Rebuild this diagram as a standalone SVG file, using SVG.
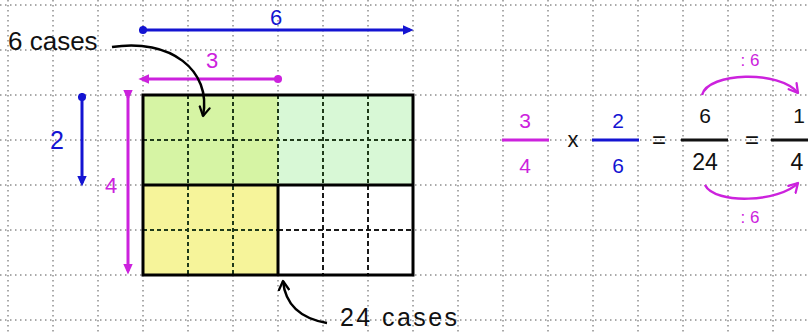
<svg xmlns="http://www.w3.org/2000/svg" width="808" height="332" viewBox="0 0 808 332">
<style>
.grid line{stroke:#555;stroke-width:1;stroke-dasharray:1.5 3.5}
.hand{font-family:"Liberation Sans","DejaVu Sans",sans-serif}
.blk{fill:#111}
.blu{fill:#1414d2}
.mag{fill:#cc22dd}
.dash{stroke:#1a1a1a;stroke-width:2;stroke-dasharray:5 3;fill:none}
.dashg{stroke:#1f3a1a;stroke-width:2;stroke-dasharray:4 3;fill:none}
.solid{stroke:#000;stroke-width:3;fill:none}
</style>
<defs>
<marker id="chevBlk" viewBox="0 0 10 10" refX="8" refY="5" markerWidth="5" markerHeight="5" orient="auto" markerUnits="strokeWidth">
<polyline points="1,1 8,5 1,9" fill="none" stroke="#000" stroke-width="1.8" stroke-linecap="round" stroke-linejoin="round"/>
</marker>
<marker id="chevMag" viewBox="0 0 10 10" refX="8" refY="5" markerWidth="5" markerHeight="5" orient="auto" markerUnits="strokeWidth">
<polyline points="1,1 8,5 1,9" fill="none" stroke="#cc22dd" stroke-width="1.8" stroke-linecap="round" stroke-linejoin="round"/>
</marker>
<marker id="triBlu" viewBox="0 0 10 10" refX="6" refY="5" markerWidth="4" markerHeight="4" orient="auto" markerUnits="strokeWidth">
<path d="M0,1 L9,5 L0,9 Z" fill="#1414d2"/>
</marker>
<marker id="dotBlu" viewBox="0 0 10 10" refX="5" refY="5" markerWidth="3" markerHeight="3" orient="auto" markerUnits="strokeWidth">
<circle cx="5" cy="5" r="4.5" fill="#1414d2"/>
</marker>
<marker id="triMag" viewBox="0 0 10 10" refX="6" refY="5" markerWidth="4" markerHeight="4" orient="auto" markerUnits="strokeWidth">
<path d="M0,1 L9,5 L0,9 Z" fill="#cc22dd"/>
</marker>
<marker id="dotMag" viewBox="0 0 10 10" refX="5" refY="5" markerWidth="3" markerHeight="3" orient="auto" markerUnits="strokeWidth">
<circle cx="5" cy="5" r="4.5" fill="#cc22dd"/>
</marker>
</defs>
<rect width="808" height="332" fill="#fff"/>
<g class="grid">
<line x1="8" y1="0" x2="8" y2="332"/><line x1="53" y1="0" x2="53" y2="332"/><line x1="98" y1="0" x2="98" y2="332"/><line x1="143" y1="0" x2="143" y2="332"/><line x1="188" y1="0" x2="188" y2="332"/><line x1="233" y1="0" x2="233" y2="332"/><line x1="278" y1="0" x2="278" y2="332"/><line x1="323" y1="0" x2="323" y2="332"/><line x1="368" y1="0" x2="368" y2="332"/><line x1="413" y1="0" x2="413" y2="332"/><line x1="458" y1="0" x2="458" y2="332"/><line x1="503" y1="0" x2="503" y2="332"/><line x1="548" y1="0" x2="548" y2="332"/><line x1="593" y1="0" x2="593" y2="332"/><line x1="638" y1="0" x2="638" y2="332"/><line x1="683" y1="0" x2="683" y2="332"/><line x1="728" y1="0" x2="728" y2="332"/><line x1="773" y1="0" x2="773" y2="332"/>
<line x1="0" y1="5" x2="808" y2="5"/><line x1="0" y1="50" x2="808" y2="50"/><line x1="0" y1="95" x2="808" y2="95"/><line x1="0" y1="140" x2="808" y2="140"/><line x1="0" y1="185" x2="808" y2="185"/><line x1="0" y1="230" x2="808" y2="230"/><line x1="0" y1="275" x2="808" y2="275"/><line x1="0" y1="320" x2="808" y2="320"/>
</g>
<g id="rectangle">
<rect x="143" y="95" width="135" height="90" fill="#d6f4a4"/>
<rect x="278" y="95" width="135" height="90" fill="#d8f8d6"/>
<rect x="143" y="185" width="135" height="90" fill="#f6f49a"/>
<rect x="278" y="185" width="135" height="90" fill="#fff"/>
<path class="dashg" d="M188,95 V275 M233,95 V275 M323,95 V185 M368,95 V185 M278,95 V185 M143,140 H413 M143,230 H278"/>
<path class="dash" d="M323,185 V275 M368,185 V275 M278,230 H413"/>
<path class="solid" d="M143,185 H413 M278,185 V275"/>
<rect x="143" y="95" width="270" height="180" class="solid"/>
</g>
<g id="dim-6">
<text class="hand blu" x="276" y="25" font-size="22" text-anchor="middle">6</text>
</g>
<g id="dim-3">
<text class="hand mag" x="212" y="68" font-size="22" text-anchor="middle">3</text>
</g>
<g id="dim-2">
<text class="hand blu" x="57" y="149" font-size="25" text-anchor="middle">2</text>
</g>
<g id="dim-4">
<text class="hand mag" x="111" y="193" font-size="22" text-anchor="middle">4</text>
</g>
<g id="label-6-cases">
<text class="hand blk" x="8" y="50" font-size="26">6 cases</text>
</g>
<g id="label-24-cases">
<text class="hand blk" x="340" y="326" font-size="25" textLength="117">24 cases</text>
</g>
<g id="equation">
<text class="hand mag" x="525" y="128" font-size="21" text-anchor="middle">3</text>
<line x1="502" y1="140" x2="549" y2="140" stroke="#cc22dd" stroke-width="3"/>
<text class="hand mag" x="525" y="173" font-size="21" text-anchor="middle">4</text>
<text class="hand blk" x="573" y="147" font-size="22" text-anchor="middle">x</text>
<text class="hand blk" x="659" y="148" font-size="24" text-anchor="middle">=</text>
<text class="hand blu" x="618" y="128" font-size="21" text-anchor="middle">2</text>
<line x1="592" y1="140" x2="639" y2="140" stroke="#1414d2" stroke-width="3"/>
<text class="hand blu" x="618" y="173" font-size="21" text-anchor="middle">6</text>
<text class="hand blk" x="705" y="123" font-size="21" text-anchor="middle">6</text>
<line x1="681" y1="140" x2="728" y2="140" stroke="#111" stroke-width="3"/>
<text class="hand blk" x="705" y="170" font-size="23" text-anchor="middle">24</text>
<text class="hand blk" x="752" y="148" font-size="24" text-anchor="middle">=</text>
<text class="hand blk" x="799" y="123" font-size="21" text-anchor="middle">1</text>
<line x1="771" y1="140" x2="810" y2="140" stroke="#111" stroke-width="3"/>
<text class="hand blk" x="797" y="170" font-size="23" text-anchor="middle">4</text>
<text class="hand mag" x="750" y="66" font-size="17" text-anchor="middle">: 6</text>
<text class="hand mag" x="750" y="223" font-size="17" text-anchor="middle">: 6</text>
</g>
<g id="connectors" fill="none">
<line x1="143" y1="30" x2="410" y2="30" stroke="#1414d2" stroke-width="3" marker-start="url(#dotBlu)" marker-end="url(#triBlu)"/>
<line x1="278" y1="79" x2="142" y2="79" stroke="#cc22dd" stroke-width="3" marker-start="url(#dotMag)" marker-end="url(#triMag)"/>
<line x1="82" y1="97" x2="82" y2="183" stroke="#1414d2" stroke-width="3" marker-start="url(#dotBlu)" marker-end="url(#triBlu)"/>
<line x1="128" y1="97" x2="128" y2="271" stroke="#cc22dd" stroke-width="3" marker-start="url(#triMag)" marker-end="url(#triMag)"/>
<path d="M112,47 C170,38 212,70 203,116" stroke="#000" stroke-width="2.5" marker-end="url(#chevBlk)"/>
<path d="M327,323 C298,318 285,302 283,281" stroke="#000" stroke-width="2.5" marker-end="url(#chevBlk)"/>
<path d="M702,95 C708,72 780,70 798,93" stroke="#cc22dd" stroke-width="2.5" marker-end="url(#chevMag)"/>
<path d="M705,185 C715,205 780,202 798,183" stroke="#cc22dd" stroke-width="2.5" marker-end="url(#chevMag)"/>
</g>
</svg>
